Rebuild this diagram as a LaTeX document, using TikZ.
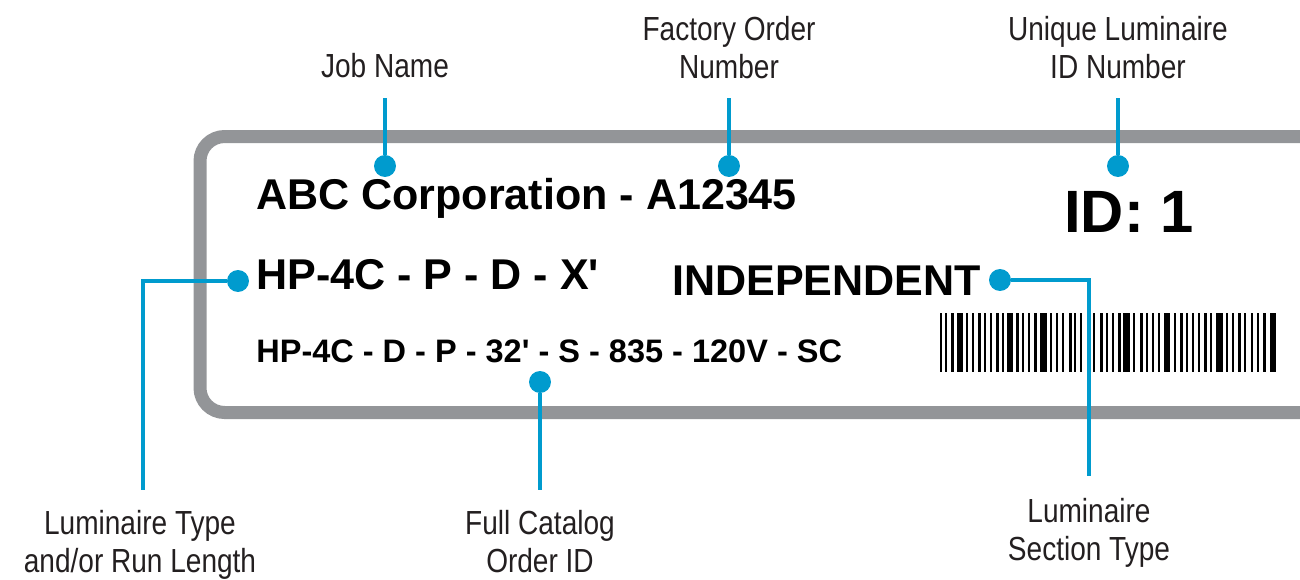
\documentclass[tikz,border=0pt]{standalone}
\usepackage{fontspec}
\setmainfont{Liberation Sans}
\newfontfamily\labelfont[FakeStretch=0.84]{Liberation Sans}
\newfontfamily\tagfont{Liberation Sans Bold}

\definecolor{calloutblue}{RGB}{0,155,206}
\definecolor{framegray}{RGB}{147,149,152}
\definecolor{labelgray}{RGB}{35,31,32}

\tikzset{
    frame/.style={draw=framegray, line width=7.4pt, rounded corners=14pt},
    callout/.style={draw=calloutblue, line width=2.8pt},
    dot/.style={circle, fill=calloutblue, inner sep=0pt, minimum size=12.5pt},
    caption/.style={font=\labelfont\fontsize{19}{21.5}\selectfont, text=labelgray,
        align=center, inner sep=0pt, anchor=north},
    bigtag/.style={font=\tagfont\fontsize{24.5}{30}\selectfont, anchor=base west, inner sep=0pt},
    smalltag/.style={font=\tagfont\fontsize{18.5}{22}\selectfont, anchor=base west, inner sep=0pt},
}

\begin{document}
\begin{tikzpicture}[x=0.02cm, y=-0.02cm]
    \useasboundingbox (0,0) rectangle (1300,579);
    \clip (0,0) rectangle (1300,579);

    % label frame, runs off the right edge
    \draw[frame] (200,136.5) rectangle (1360,412.5);

    % printed texts
    \node[bigtag] (jobname) at (256,209) {ABC Corporation - A12345};
    \node[bigtag] (runtype) at (256,289) {HP-4C - P - D - X'};
    \node[bigtag] (section) at (672,295) {INDEPENDENT};
    \node[font=\tagfont\fontsize{34}{40}\selectfont, anchor=base west, inner sep=0pt] (idnum) at (1064,232) {ID: 1};
    \node[smalltag] (catalog) at (256,362) {HP-4C - D - P - 32' - S - 835 - 120V - SC};

    % barcode
    \foreach \o/\w in {0/2, 5/2, 11/3, 17/6, 26/2, 32/2, 38/3, 44/2, 50/2, 56/3,
            62/2, 67/6, 76/3, 82/2, 88/2, 94/3, 100/7, 110/2, 116/2, 122/2,
            129/3, 134/2, 140/2, 147/2, 153/2, 160/3, 166/2, 172/2, 178/3, 183/7,
            193/2, 200/3, 206/2, 212/2, 218/2, 224/6, 234/2, 240/3, 246/2, 252/2,
            258/2, 264/3, 270/2, 276/7, 286/2, 292/2, 298/3, 304/2, 311/2, 317/2,
            323/3, 330/6}{
        \fill (940+\o,313) rectangle ++(\w,59);
    }

    % callout dots
    \node[dot] (jobdot) at (385,166) {};
    \node[dot] (orderdot) at (729,166) {};
    \node[dot] (iddot) at (1118,166) {};
    \node[dot] (typedot) at (238,281) {};
    \node[dot] (catdot) at (540,382) {};
    \node[dot] (sectdot) at (1000,280) {};

    % free ends of the callouts
    \coordinate (jobend) at (385,98);
    \coordinate (orderend) at (729,98);
    \coordinate (idend) at (1118,98);
    \coordinate (typeend) at (143,490);
    \coordinate (catend) at (540,490);
    \coordinate (sectend) at (1089,476);

    \draw[callout] (jobdot) -- (jobend);
    \draw[callout] (orderdot) -- (orderend);
    \draw[callout] (iddot) -- (idend);
    \draw[callout] (typedot) -| (typeend);
    \draw[callout] (catdot) -- (catend);
    \draw[callout] (sectdot) -| (sectend);

    % captions
    \node[caption] (jobcap) at (385,53) {Job Name};
    \node[caption] (ordercap) at (729,16) {Factory Order\\Number};
    \node[caption] (idcap) at (1118,16) {Unique Luminaire\\ID Number};
    \node[caption] (typecap) at (140,510) {Luminaire Type\\and/or Run Length};
    \node[caption] (catcap) at (540,510) {Full Catalog\\Order ID};
    \node[caption] (sectcap) at (1089,498) {Luminaire\\Section Type};
\end{tikzpicture}
\end{document}
